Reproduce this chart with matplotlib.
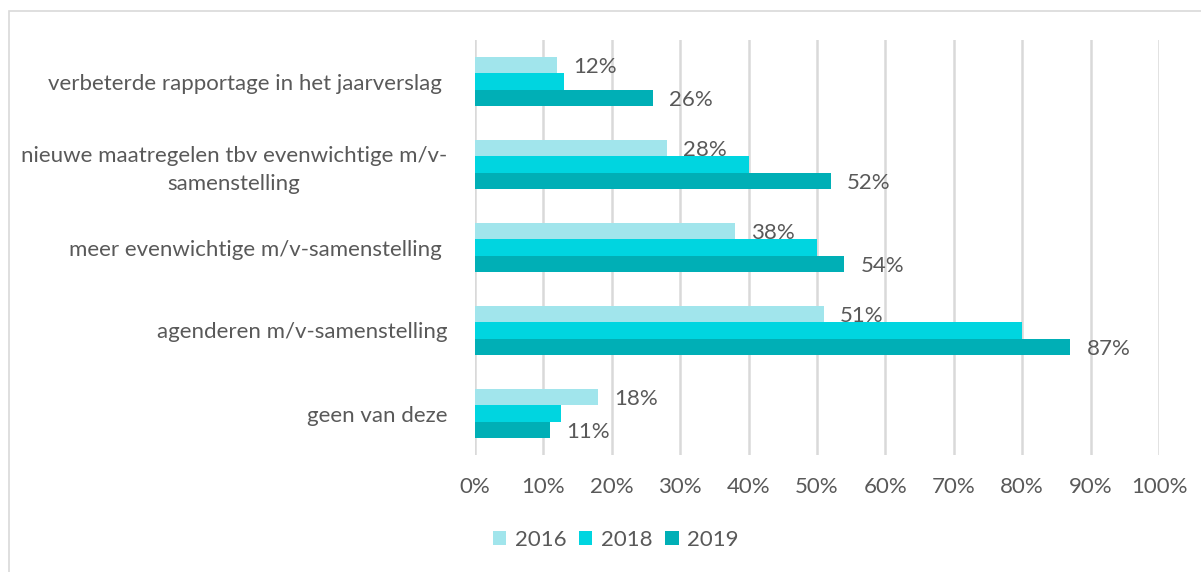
import matplotlib.pyplot as plt
from matplotlib.patches import Rectangle
import numpy as np

plt.rcParams['font.family'] = ['Lato', 'DejaVu Sans']

categories = [
    "verbeterde rapportage in het jaarverslag ",
    "nieuwe maatregelen tbv evenwichtige m/v-\nsamenstelling",
    "meer evenwichtige m/v-samenstelling ",
    "agenderen m/v-samenstelling",
    "geen van deze",
]
years = ["2016", "2018", "2019"]
vals_2016 = [12, 28, 38, 51, 18]
vals_2018 = [13, 40, 50, 80, 12.5]
vals_2019 = [26, 52, 54, 87, 11]
xticks = [0, 10, 20, 30, 40, 50, 60, 70, 80, 90, 100]

colors = ["#A1E5EC", "#00D5E0", "#00AFB6"]
text_col = "#595959"
fs = 16

fig = plt.figure(figsize=(12.01, 5.72), dpi=100)
ax = fig.add_axes([475 / 1201, 1 - 455 / 572, (1159 - 475) / 1201, 415 / 572])

# outer chart frame
fig.patches.append(Rectangle((9 / 1201, -0.01), 1.2, 1 - 11 / 572 + 0.01,
                             transform=fig.transFigure, fill=False,
                             edgecolor="#d9d9d9", linewidth=1.2))

y = np.arange(len(categories))
h = 0.2
series = [vals_2016, vals_2018, vals_2019]
for i, (vals, c, yr) in enumerate(zip(series, colors, years)):
    pos = y + (i - 1) * h
    ax.barh(pos, vals, height=h, color=c, label=yr, zorder=3)
    if i != 1:
        for p, v in zip(pos, vals):
            ax.text(v + 2.4, p + 0.02, f"{v:.0f}%", va="center", ha="left",
                    fontsize=fs, color=text_col, zorder=4)

ax.set_xlim(0, 100)
ax.set_ylim(len(categories) - 0.5, -0.5)
ax.set_xticks(xticks)
ax.set_xticklabels([f"{t}%" for t in xticks])
ax.set_yticks(y)
ax.set_yticklabels(categories, multialignment="center", linespacing=1.5)
ax.tick_params(axis="both", length=0, labelsize=fs, colors=text_col)
ax.tick_params(axis="x", pad=16)
ax.tick_params(axis="y", pad=20)
ax.grid(axis="x", color="#d9d9d9", linewidth=1.8, zorder=0)
for s in ax.spines.values():
    s.set_visible(False)

handles, labels = ax.get_legend_handles_labels()
fig.legend(handles, labels, loc="center", bbox_to_anchor=(616 / 1201, 1 - 540 / 572),
           ncol=3, frameon=False, fontsize=fs, labelcolor=text_col,
           handlelength=0.6, handleheight=0.6, handletextpad=0.4, columnspacing=0.55)

fig.savefig("out.png", dpi=100)
